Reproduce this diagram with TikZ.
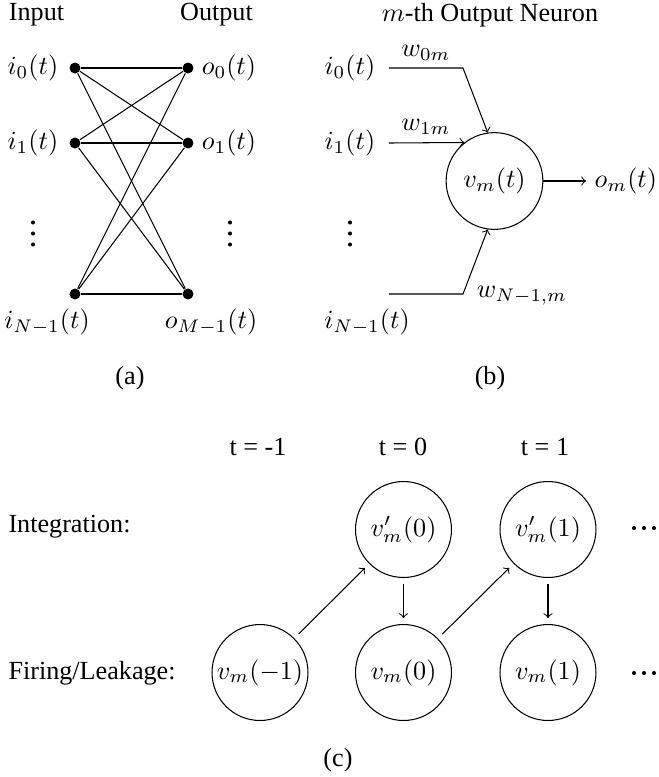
\documentclass[tikz,border=0pt]{standalone}
\usepackage[no-math]{fontspec}
\setmainfont{Liberation Serif}
\begin{document}
\begin{tikzpicture}[x=0.3824pt,y=-0.3824pt,
  dot/.style={circle,fill,inner sep=0pt,minimum size=4.2pt},
  ddot/.style={circle,fill,inner sep=0pt,minimum size=1.55pt},
  lbl/.style={inner sep=0pt},
  neuron/.style={circle,draw,inner sep=0pt,minimum size=37pt},
  state/.style={circle,draw,inner sep=0pt,minimum size=36.7pt},
  arr/.style={->},
  tarr/.style={->,shorten <=2.3pt,shorten >=2.3pt}]
\useasboundingbox (0,0) rectangle (659,777);

% ---------- (a) ----------
\node[lbl] (inTitle) at (36.5,15) {Input};
\node[lbl] (outTitle) at (216.5,15) {Output};
\node[dot] (in0) at (75,68) {};
\node[dot] (in1) at (75,143) {};
\node[dot] (inN) at (75,294) {};
\node[dot] (out0) at (188,68) {};
\node[dot] (out1) at (188,143) {};
\node[dot] (outM) at (188,294) {};
\foreach \a in {in0,in1,inN}
  \foreach \b in {out0,out1,outM}
    \draw (\a) -- (\b);
\node[lbl] (li0) at (33,68) {$i_0(t)$};
\node[lbl] (li1) at (33,143) {$i_1(t)$};
\node[lbl] (liN) at (47,322) {$i_{N-1}(t)$};
\node[lbl] (lo0) at (229,68) {$o_0(t)$};
\node[lbl] (lo1) at (229,143) {$o_1(t)$};
\node[lbl] (loM) at (211,322) {$o_{M-1}(t)$};
\foreach \x/\n in {33/la,230/lb,350/lc}
  \foreach \y/\k in {222.5/1,233.5/2,244.5/3}
    \node[ddot] (vd\n\k) at (\x,\y) {};
\node[lbl] (capa) at (130,378) {(a)};

% ---------- (b) ----------
\node[lbl] (bTitle) at (490,15) {$m$-th Output Neuron};
\node[lbl] (bi0) at (350,68) {$i_0(t)$};
\node[lbl] (bi1) at (350,143) {$i_1(t)$};
\node[lbl] (biN) at (367,322) {$i_{N-1}(t)$};
\node[neuron] (v) at (494.5,181) {$v_m(t)$};
\coordinate (s0) at (389,68);
\coordinate (k0) at (463,68);
\coordinate (s1) at (389,143);
\coordinate (sN) at (389,294);
\coordinate (kN) at (463,294);
\draw[arr] (s0) -- (k0) -- (v.98);
\draw[arr] (s1) -- (v.128.5);
\draw[arr] (sN) -- (kN) -- (v.262);
\node[lbl] (w0) at (426,53) {$w_{0m}$};
\node[lbl] (w1) at (426,127) {$w_{1m}$};
\node[lbl] (wN) at (522,296) {$w_{N-1,m}$};
\node[anchor=west,outer sep=0pt] (om) at (586,181) {$o_m(t)$};
\draw[arr] (v) -- (om);
\node[lbl] (capb) at (490,378) {(b)};

% ---------- (c) ----------
\node[lbl] (tm1) at (258,447) {t = -1};
\node[lbl] (t0) at (403,447) {t = 0};
\node[lbl] (t1) at (545,447) {t = 1};
\node[lbl,anchor=west] (integ) at (8,527) {Integration:};
\node[lbl,anchor=west] (fire) at (8,673) {Firing/Leakage:};
\node[state] (vp0) at (403.5,529.5) {$v'_m(0)$};
\node[state] (vp1) at (548,529.5) {$v'_m(1)$};
\node[state] (vm1) at (260,672.5) {$v_m(-1)$};
\node[state] (v0) at (403.5,672.5) {$v_m(0)$};
\node[state] (v1) at (548,672.5) {$v_m(1)$};
\draw[tarr] (vm1) -- (vp0);
\draw[tarr] (vp0) -- (v0);
\draw[tarr] (v0) -- (vp1);
\draw[tarr] (vp1) -- (v1);
\foreach \y/\r in {528/t,673/b}
  \foreach \x/\k in {634/1,644/2,654/3}
    \node[ddot] (hd\r\k) at (\x,\y) {};
\node[lbl] (capc) at (338,760) {(c)};
\end{tikzpicture}
\end{document}
